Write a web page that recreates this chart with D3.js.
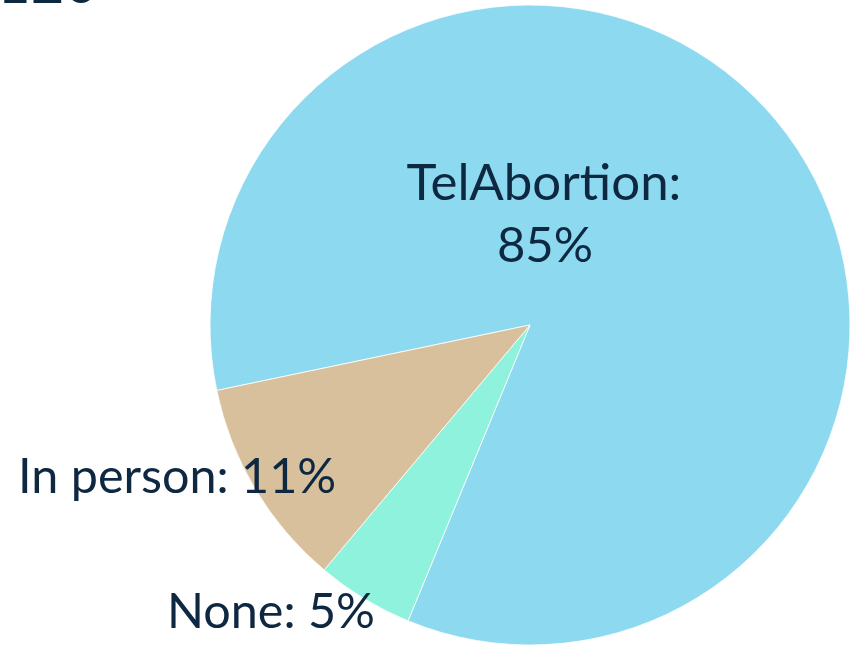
<!DOCTYPE html>
<html>
<head>
<meta charset="utf-8">
<script src="https://cdn.jsdelivr.net/npm/d3@7"></script>
<style>
  body { margin: 0; background: #fff; }
  svg { display: block; }
  text { font-family: Lato, "Open Sans", sans-serif; fill: #0e2841; }
</style>
</head>
<body>
<svg id="chart"></svg>
<script>
var width = 855;
var height = 645;

// slice data (share of respondents, %)
var categories = ["TelAbortion", "None", "In person"];
var shares = [84.5, 4.9, 10.6];
var colours = ["#8dd9f0", "#8ff2dc", "#d9c09c"];
var topNote = "n=120";

const svg = d3.select("#chart")
    .attr("width", width)
    .attr("height", height);

const cx = 530, cy = 325, radius = 320;
const startDeg = 258.2;

const pie = d3.pie()
    .sort(null)
    .value(d => d)
    .startAngle(startDeg * Math.PI / 180)
    .endAngle(startDeg * Math.PI / 180 + 2 * Math.PI);

const arc = d3.arc().innerRadius(0).outerRadius(radius);
const colour = d3.scaleOrdinal().domain(categories).range(colours);

const arcs = pie(shares);

const g = svg.append("g").attr("transform", "translate(" + cx + "," + cy + ")");

g.selectAll("path.slice")
    .data(arcs)
    .enter()
    .append("path")
    .attr("class", "slice")
    .attr("d", arc)
    .attr("fill", (d, i) => colour(categories[i]))
    .attr("stroke", "#ffffff")
    .attr("stroke-width", 0.8);

// label text
function labelText(i) {
    return categories[i] + ": " + Math.round(shares[i]) + "%";
}

// TelAbortion label, two lines inside the slice
svg.append("text")
    .attr("x", 544)
    .attr("y", 200)
    .attr("text-anchor", "middle")
    .style("font-size", "51px")
    .text(categories[0] + ":");
svg.append("text")
    .attr("x", 545)
    .attr("y", 262)
    .attr("text-anchor", "middle")
    .style("font-size", "49px")
    .text(Math.round(shares[0]) + "%");

// outside labels
svg.append("text")
    .attr("x", 18)
    .attr("y", 493)
    .style("font-size", "48.5px")
    .text(labelText(2));

svg.append("text")
    .attr("x", 167)
    .attr("y", 628)
    .style("font-size", "48.5px")
    .text(labelText(1));

// title text cut by the top edge
svg.append("text")
    .attr("x", 98)
    .attr("y", 3)
    .attr("text-anchor", "end")
    .style("font-size", "58px")
    .text(topNote);
</script>
</body>
</html>
